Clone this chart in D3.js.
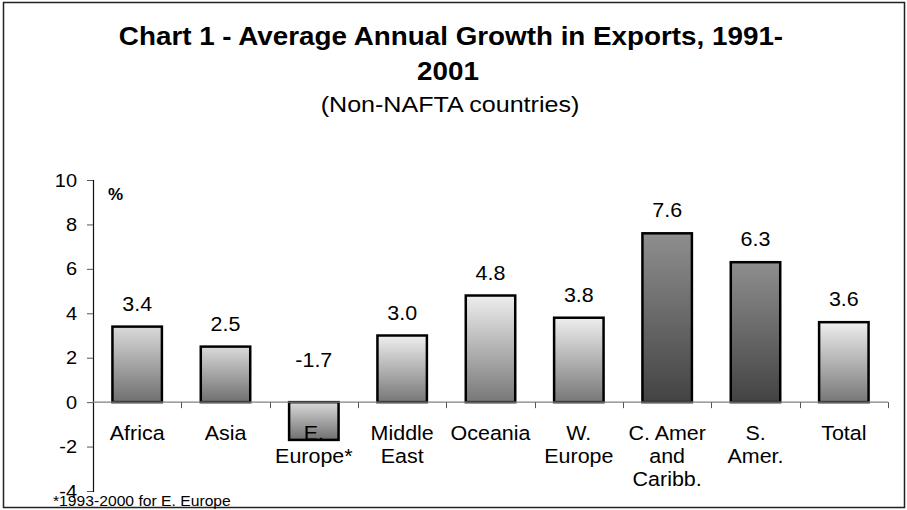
<!DOCTYPE html>
<html>
<head>
<meta charset="utf-8">
<script src="https://cdn.jsdelivr.net/npm/d3@7"></script>
<style>
  html, body { margin: 0; padding: 0; background: #fff; }
  svg { display: block; }
  text { font-family: "Liberation Sans", Arial, sans-serif; fill: #000; }
</style>
</head>
<body>
<svg id="chart" width="907" height="510"></svg>
<script>
// Regions and their average annual export growth, 1991-2001 (%)
const categories = ["Africa", "Asia", "E. Europe*", "Middle East", "Oceania", "W. Europe", "C. Amer and Caribb.", "S. Amer.", "Total"];
const labelLines = [["Africa"], ["Asia"], ["E.", "Europe*"], ["Middle", "East"], ["Oceania"], ["W.", "Europe"], ["C. Amer", "and", "Caribb."], ["S.", "Amer."], ["Total"]];
const growth = [3.4, 2.5, -1.7, 3.0, 4.8, 3.8, 7.6, 6.3, 3.6];
const shade = ["mid", "mid", "mid", "light", "light", "light", "dark", "dark", "light"];
const yTicks = [-4, -2, 0, 2, 4, 6, 8, 10];

const svg = d3.select("#chart");

// Outer frame
svg.append("rect").attr("x", 3.5).attr("y", 2.5).attr("width", 901).attr("height", 505)
  .attr("fill", "#fff").attr("stroke", "#222").attr("stroke-width", 1.5);

// Vertical gradients, one per shade
const defs = svg.append("defs");
const grads = { light: ["#eeeeee", "#777777"], mid: ["#dadada", "#6f6f6f"], dark: ["#8e8e8e", "#434343"] };
Object.entries(grads).forEach(([k, c]) => {
  const g = defs.append("linearGradient").attr("id", "grad-" + k)
    .attr("x1", 0).attr("y1", 0).attr("x2", 0).attr("y2", 1);
  g.append("stop").attr("offset", "0%").attr("stop-color", c[0]);
  g.append("stop").attr("offset", "100%").attr("stop-color", c[1]);
});

// Text helper with slight horizontal widening
function txt(parent, x, y, s, size, anchor, sx, weight) {
  return parent.append("text")
    .attr("transform", `translate(${x},${y}) scale(${sx},1)`)
    .attr("text-anchor", anchor)
    .style("font-size", size + "px")
    .style("font-weight", weight || "normal")
    .text(s);
}

// Titles
txt(svg, 451, 45, "Chart 1 - Average Annual Growth in Exports, 1991-", 26, "middle", 1.07, "bold");
txt(svg, 448, 80, "2001", 26, "middle", 1.07, "bold");
txt(svg, 450, 112, "(Non-NAFTA countries)", 22, "middle", 1.14);

// Scales
const x = d3.scaleBand().domain(categories).range([93, 888]).paddingInner(0.44).paddingOuter(0.22);
const y = d3.scaleLinear().domain([-4, 10]).range([491, 180]);

// Bars
svg.append("g").selectAll("rect").data(categories).join("rect")
  .attr("x", d => x(d))
  .attr("width", x.bandwidth())
  .attr("y", (d, i) => y(Math.max(0, growth[i])))
  .attr("height", (d, i) => Math.abs(y(growth[i]) - y(0)))
  .attr("fill", (d, i) => `url(#grad-${shade[i]})`)
  .attr("stroke", "#000").attr("stroke-width", 2.5);

// Y axis
const yAxis = svg.append("g").attr("transform", "translate(93,0)")
  .call(d3.axisLeft(y).tickValues(yTicks).tickSize(6).tickFormat(d3.format("d")));
yAxis.select(".domain").attr("stroke", "#111").attr("stroke-width", 1.2);
yAxis.selectAll(".tick line").attr("stroke", "#555");
yAxis.selectAll(".tick text").remove();
yTicks.forEach(t => txt(svg, 77, y(t) + 6.5, String(t), 18.5, "end", 1.08));

// X axis line at zero with boundary tick marks
const step = x.step();
const x0 = x.range()[0];
svg.append("line").attr("x1", x0).attr("x2", x.range()[1]).attr("y1", y(0)).attr("y2", y(0))
  .attr("stroke", "#808080").attr("stroke-width", 1.2);
d3.range(1, categories.length + 1).forEach(i => {
  const bx = Math.round(x0 + i * step) + 0.5;
  svg.append("line").attr("x1", bx).attr("x2", bx).attr("y1", y(0)).attr("y2", y(0) + 6)
    .attr("stroke", "#555").attr("stroke-width", 1);
});

// Category labels
const catG = svg.append("g");
categories.forEach((c, i) => {
  const cx = x(c) + x.bandwidth() / 2;
  labelLines[i].forEach((line, j) => txt(catG, cx, 440 + j * 23, line, 19.5, "middle", 1.1));
});

// Value labels
categories.forEach((c, i) => {
  const cx = x(c) + x.bandwidth() / 2;
  const v = growth[i];
  const ly = v >= 0 ? y(v) - 16 : y(0) - 35;
  txt(svg, cx, ly, v.toFixed(1), 19.5, "middle", 1.1);
});

// Unit marker and footnote
txt(svg, 108, 200, "%", 17, "start", 1.0, "bold");
txt(svg, 53, 506, "*1993-2000 for E. Europe", 14, "start", 1.12);
</script>
</body>
</html>
